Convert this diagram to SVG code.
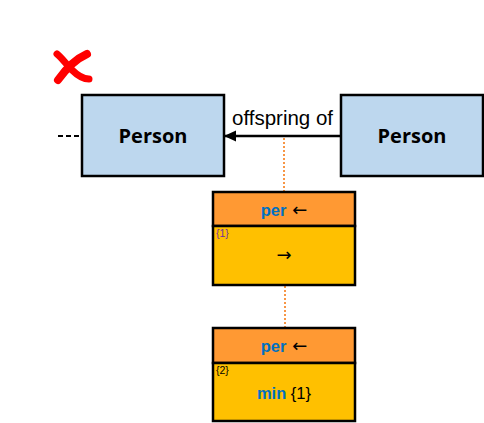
<svg xmlns="http://www.w3.org/2000/svg" width="484" height="423" viewBox="0 0 484 423">
<defs>
<style>
.person{fill:#BDD7EE;stroke:#000;stroke-width:2.5}
.ptext{font-family:"Open Sans","Liberation Sans",Arial,sans-serif;font-weight:bold;font-size:20px;fill:#000;text-anchor:middle}
.lbl{font-family:"Liberation Sans",Arial,sans-serif;font-size:20.5px;fill:#000}
.hdr{fill:#FF9933;stroke:#000;stroke-width:2.5}
.body{fill:#FFC000;stroke:#000;stroke-width:2.5}
.blue{font-family:"Liberation Sans",Arial,sans-serif;font-weight:bold;font-size:16.5px;fill:#0070C0}
.plain{font-family:"Liberation Sans",Arial,sans-serif;font-size:16.5px;fill:#000}
.arr{font-family:"DejaVu Sans",sans-serif;font-size:18px;fill:#000}
.small{font-family:"Liberation Sans",Arial,sans-serif;font-size:10.5px}
.dot{stroke:#F79646;stroke-width:2;stroke-dasharray:2 2;fill:none}
.xs{fill:none;stroke:#FF0000;stroke-linecap:round}
</style>
</defs>
<g id="cross">
<path class="xs" d="M57,54 C62,58 66,64 72,70 C78,76 84,79 89,79" stroke-width="7"/>
<path class="xs" d="M87,54 C78,58 68,66 58,80" stroke-width="8"/>
</g>
<g id="connectors">
<line x1="58" y1="136" x2="81" y2="136" stroke="#000" stroke-width="2" stroke-dasharray="5 3"/>
<line x1="341" y1="136" x2="225" y2="136" stroke="#000" stroke-width="2.5"/>
<path d="M236,130.5 L224,136 L236,141.5 Z" fill="#000"/>
<text class="lbl" x="232" y="125">offspring of</text>
<line class="dot" x1="284" y1="138" x2="284" y2="192"/>
<line class="dot" x1="285" y1="286" x2="285" y2="327"/>
</g>
<g id="person1">
<rect class="person" x="82" y="95" width="142" height="81"/>
<text class="ptext" x="153" y="143">Person</text>
</g>
<g id="person2">
<rect class="person" x="341" y="95" width="142" height="81"/>
<text class="ptext" x="412" y="143">Person</text>
</g>
<g id="box1">
<rect class="hdr" x="213" y="192" width="142" height="34"/>
<rect class="body" x="213" y="226" width="142" height="59"/>
<text x="284" y="215.5" text-anchor="middle"><tspan class="blue">per</tspan><tspan class="arr"> ←</tspan></text>
<text class="small" x="216" y="237" fill="#7030A0">{1}</text>
<text class="arr" x="284" y="261" text-anchor="middle">→</text>
</g>
<g id="box2">
<rect class="hdr" x="213" y="328" width="142" height="35"/>
<rect class="body" x="213" y="363" width="142" height="58"/>
<text x="284" y="351.5" text-anchor="middle"><tspan class="blue">per</tspan><tspan class="arr"> ←</tspan></text>
<text class="small" x="216" y="374" fill="#000">{2}</text>
<text x="284" y="398.5" text-anchor="middle"><tspan class="blue">min</tspan><tspan class="plain"> {1}</tspan></text>
</g>
</svg>
